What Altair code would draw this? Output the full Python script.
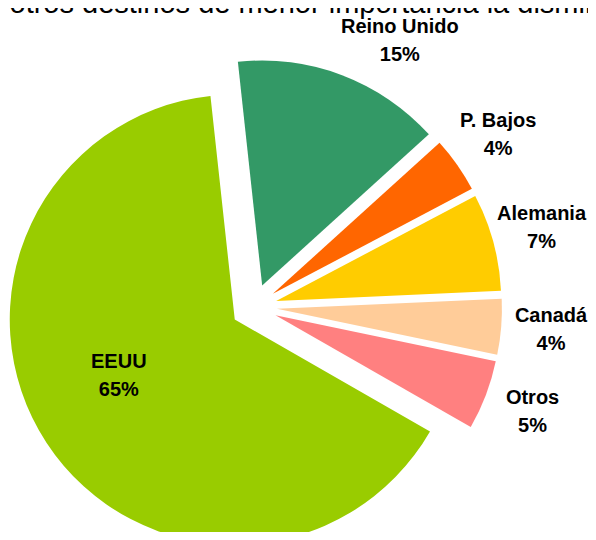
import altair as alt
import pandas as pd

# ---- data ----
categories = ["Reino Unido", "P. Bajos", "Alemania", "Canadá", "Otros", "EEUU"]
shares = [15, 4, 7, 4, 5, 65]
colors = ["#339966", "#FF6600", "#FFCC00", "#FFCC99", "#FF8080", "#99CC00"]
TITLE = "En otros destinos de menor importancia la disminución"

# ---- layout / style constants ----
W, H = 580, 524
CX, CY = 246, 299          # pie centre (px)
R = 225                    # pie radius
EXPLODE = 23               # explosion distance
START_DEG = -6.2           # first slice angle
LABEL_R = 298
INNER_R = 152
FONT = "Arial, Liberation Sans, sans-serif"

df = pd.DataFrame({"pais": categories, "pct": shares, "orden": list(range(len(categories)))})

base = (
    alt.Chart(df)
    .transform_window(cum="sum(pct)", sort=[alt.SortField("orden")], frame=[None, 0])
    .transform_joinaggregate(total="sum(pct)")
    .transform_calculate(
        a0=f"{START_DEG}*PI/180 + 2*PI*(datum.cum - datum.pct)/datum.total",
        a1=f"{START_DEG}*PI/180 + 2*PI*datum.cum/datum.total",
    )
    .transform_calculate(mid="(datum.a0 + datum.a1)/2")
    .transform_calculate(
        cx=f"{CX} + {EXPLODE}*sin(datum.mid)",
        cy=f"{CY} - {EXPLODE}*cos(datum.mid)",
        lx=f"{CX} + {LABEL_R}*sin(datum.mid)",
        ly=f"{CY} - {LABEL_R}*cos(datum.mid)",
        ix=f"{CX} + {INNER_R}*sin(datum.mid)",
        iy=f"{CY} - {INNER_R}*cos(datum.mid)",
        label="datum.pais + '\\n' + datum.pct + '%'",
    )
)

arcs = base.mark_arc(radius=R).encode(
    theta=alt.Theta("a0:Q", scale=None),
    theta2="a1:Q",
    x=alt.X("cx:Q", scale=None, axis=None),
    y=alt.Y("cy:Q", scale=None, axis=None),
    color=alt.Color("pais:N", scale=alt.Scale(domain=categories, range=colors), legend=None),
)

text_style = dict(font=FONT, fontSize=20, fontWeight="bold", color="#000000",
                  lineBreak="\n", lineHeight=28, align="center", baseline="middle")

outside = base.transform_filter(
    "datum.pais != 'EEUU' && datum.pais != 'Reino Unido'"
).mark_text(dy=-15, **text_style).encode(
    x=alt.X("lx:Q", scale=None, axis=None),
    y=alt.Y("ly:Q", scale=None, axis=None),
    text="label:N",
)

uk = base.transform_filter("datum.pais == 'Reino Unido'").mark_text(
    dx=40, dy=-1, **text_style
).encode(
    x=alt.X("lx:Q", scale=None, axis=None),
    y=alt.Y("ly:Q", scale=None, axis=None),
    text="label:N",
)

inside = base.transform_filter("datum.pais == 'EEUU'").mark_text(
    dx=-8, dy=-28, **text_style
).encode(
    x=alt.X("ix:Q", scale=None, axis=None),
    y=alt.Y("iy:Q", scale=None, axis=None),
    text="label:N",
)

title = alt.Chart(pd.DataFrame({"t": [TITLE]})).mark_text(
    font=FONT, fontSize=29, color="#000000", align="left", baseline="alphabetic",
    x=-42, y=5,
).encode(text="t:N")

chart = (
    alt.layer(arcs, outside, uk, inside, title)
    .properties(width=W, height=H, autosize=alt.AutoSizeParams(type="none"), padding=0)
    .configure_view(stroke=None)
)

chart.save("out.html", embed_options={"renderer": "svg", "actions": False})
